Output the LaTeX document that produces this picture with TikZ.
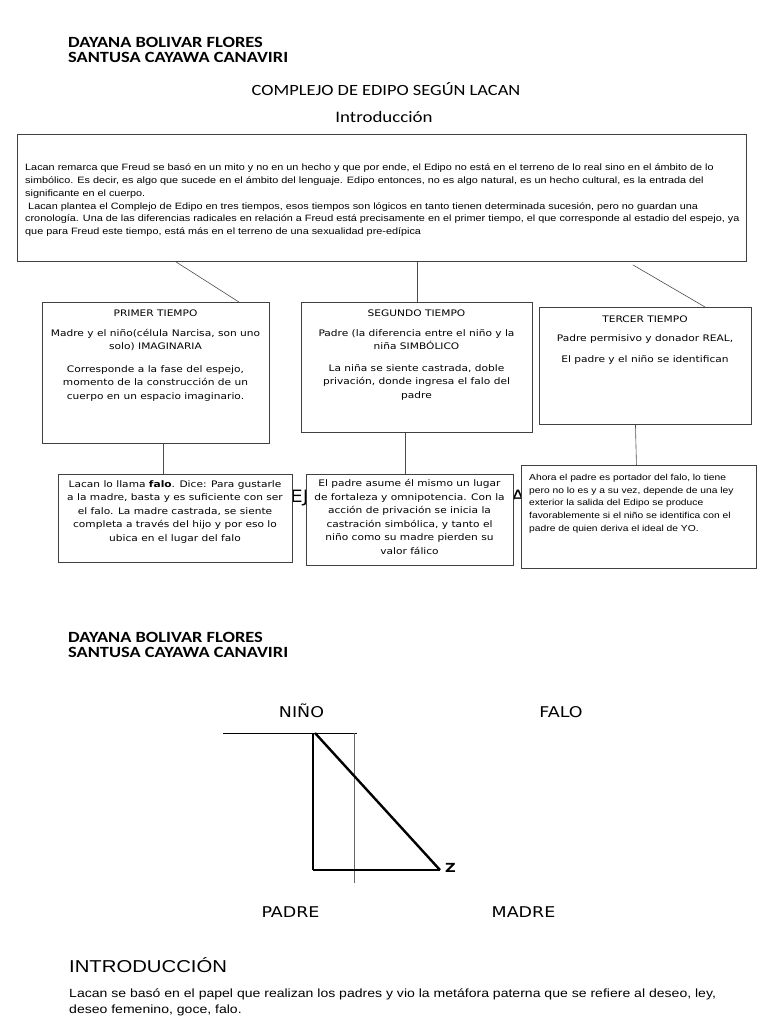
\documentclass[tikz,border=0pt]{standalone}
\usepackage{fontspec}
\setmainfont{DejaVu Sans}[FakeStretch=1.18]
\newfontfamily\carl{Carlito}[FakeStretch=1.18]
\newfontfamily\arial{Liberation Sans}[FakeStretch=1.18]
\begin{document}
\begin{tikzpicture}[x=1pt,y=-1pt,
  box/.style={draw=black!75, line width=0.9pt, fill=white, inner sep=0pt, anchor=north west},
  tx/.style={inner sep=0pt, align=center, font=\fontsize{9}{13.5}\selectfont},
  conn/.style={draw=black!70, line width=0.6pt},
  lbl/.style={inner sep=0pt, anchor=base, font=\fontsize{14.8}{18}\selectfont}
]
\useasboundingbox (0,0) rectangle (768,1024);
\fill[white] (0,0) rectangle (768,1024);

% header
\node[inner sep=0pt, anchor=base west, align=left, font=\carl\bfseries\fontsize{15.6}{15}\selectfont] (names1) at (68,63) {DAYANA BOLIVAR FLORES\\SANTUSA CAYAWA CANAVIRI};
\node[inner sep=0pt, anchor=base, font=\carl\fontsize{15.6}{16}\selectfont] (title) at (386,96) {COMPLEJO DE EDIPO SEGÚN LACAN};
\node[inner sep=0pt, anchor=base, font=\carl\fontsize{16}{16}\selectfont] (intrott) at (384,123) {Introducción};

% hidden fragment behind the third lower box
\node[inner sep=0pt, anchor=base west, font=\fontsize{17}{20}\selectfont] (fragA) at (511,502) {A};

% intro box
\node[box, minimum width=729pt, minimum height=127pt] (intro) at (17,134) {};
\node[inner sep=0pt, anchor=north west, align=left, font=\arial\fontsize{9.2}{12.75}\selectfont] (introtx) at (25,164) {Lacan remarca que Freud se basó en un mito y no en un hecho y que por ende, el Edipo no está en el terreno de lo real sino en el ámbito de lo\\
simbólico. Es decir, es algo que sucede en el ámbito del lenguaje. Edipo entonces, no es algo natural, es un hecho cultural, es la entrada del\\
significante en el cuerpo.\\
\ Lacan plantea el Complejo de Edipo en tres tiempos, esos tiempos son lógicos en tanto tienen determinada sucesión, pero no guardan una\\
cronología. Una de las diferencias radicales en relación a Freud está precisamente en el primer tiempo, el que corresponde al estadio del espejo, ya\\
que para Freud este tiempo, está más en el terreno de una sexualidad pre-edípica};

% first row
\node[box, minimum width=227pt, minimum height=141pt] (b1) at (42,302) {};
\node[tx] (b1t) at (155.5,313) {PRIMER TIEMPO};
\node[tx, anchor=north] (b1a) at (155.5,329) {Madre y el niño(célula Narcisa, son uno\\solo) IMAGINARIA};
\node[tx, anchor=north] (b1b) at (155.5,365) {Corresponde a la fase del espejo,\\momento de la construcción de un\\cuerpo en un espacio imaginario.};

\node[box, minimum width=231pt, minimum height=130pt] (b2) at (301,302) {};
\node[tx] (b2t) at (416.5,313) {SEGUNDO TIEMPO};
\node[tx, anchor=north] (b2a) at (416.5,329) {Padre (la diferencia entre el niño y la\\niña SIMBÓLICO};
\node[tx, anchor=north] (b2b) at (416.5,364) {La niña se siente castrada, doble\\privación, donde ingresa el falo del\\padre};

\node[box, minimum width=212pt, minimum height=117pt] (b3) at (539,307) {};
\node[tx] (b3t) at (645,319) {TERCER TIEMPO};
\node[tx, anchor=north] (b3a) at (645,334) {Padre permisivo y donador REAL,};
\node[tx, anchor=north] (b3b) at (645,355) {El padre y el niño se identifican};

% second row
\node[inner sep=0pt, anchor=base west, font=\fontsize{17}{20}\selectfont] (fragEJ) at (290,502) {EJ};

\node[box, minimum width=234pt, minimum height=88pt] (b4) at (58,474) {};
\node[tx, anchor=north] (b4t) at (175,480) {Lacan lo llama \textbf{falo}. Dice: Para gustarle\\a la madre, basta y es suficiente con ser\\el falo. La madre castrada, se siente\\completa a través del hijo y por eso lo\\ubica en el lugar del falo};

\node[box, minimum width=207pt, minimum height=91pt] (b5) at (306,474) {};
\node[tx, anchor=north] (b5t) at (409.5,479.5) {El padre asume él mismo un lugar\\de fortaleza y omnipotencia. Con la\\acción de privación se inicia la\\castración simbólica, y tanto el\\niño como su madre pierden su\\valor fálico};

\node[box, minimum width=235pt, minimum height=103pt] (b6) at (521,465) {};
\node[inner sep=0pt, anchor=north west, align=left, font=\arial\fontsize{8.7}{12.7}\selectfont] (b6t) at (529,474) {Ahora el padre es portador del falo, lo tiene\\pero no lo es y a su vez, depende de una ley\\exterior la salida del Edipo se produce\\favorablemente si el niño se identifica con el\\padre de quien deriva el ideal de YO.};

% connectors
\draw[conn] ([xshift=159pt]intro.south west) -- ([xshift=-31pt]b1.north east);
\draw[conn] (intro.south -| b2.north) -- (b2.north);
\draw[conn] ([xshift=-114pt,yshift=-3pt]intro.south east) -- ([xshift=166pt]b3.north west);
\draw[conn] (b1.south -| b4.north) ++(-12pt,0) coordinate (c1) -- (c1 |- b4.north);
\draw[conn] ([xshift=-12pt]b2.south) coordinate (c2) -- (c2 |- b5.north);
\draw[conn] ([xshift=-10pt]b3.south) -- ([xshift=-9pt]b3.south |- b6.north);

% second page
\node[inner sep=0pt, anchor=base west, align=left, font=\carl\bfseries\fontsize{15.6}{15}\selectfont] (names2) at (68,657) {DAYANA BOLIVAR FLORES\\SANTUSA CAYAWA CANAVIRI};

\node[lbl] (nino) at (301.5,717) {NIÑO};
\node[lbl] (falo) at (561,717) {FALO};
\node[lbl] (padre) at (290.5,917) {PADRE};
\node[lbl] (madre) at (523.5,917) {MADRE};

\coordinate (tl) at (313,733);
\coordinate (bl) at (313,870);
\coordinate (br) at (440,870);
\coordinate (hl) at (223,733);
\coordinate (hr) at (357,733);
\coordinate (vt) at (354,733);
\coordinate (vb) at (354,883);
\draw[line width=0.6pt] (hl) -- (hr);
\draw[line width=0.4pt, draw=black!60] (vt) -- (vb);
\draw[line width=1.3pt] (tl) -- (bl);
\draw[line width=2.4pt] (bl) -- (br);
\draw[line width=2.4pt] ([xshift=2pt]tl) -- (br);
\node[inner sep=0pt, anchor=west, font=\bfseries\fontsize{12.5}{13}\selectfont] (zz) at (445,868) {Z};

\node[inner sep=0pt, anchor=base west, font=\arial\fontsize{17.2}{20}\selectfont] (intro2) at (69,972) {INTRODUCCIÓN};
\node[inner sep=0pt, anchor=base west, align=left, font=\arial\fontsize{11.9}{16}\selectfont] (para) at (69,1013) {Lacan se basó en el papel que realizan los padres y vio la metáfora paterna que se refiere al deseo, ley,\\deseo femenino, goce, falo.};
\end{tikzpicture}
\end{document}
